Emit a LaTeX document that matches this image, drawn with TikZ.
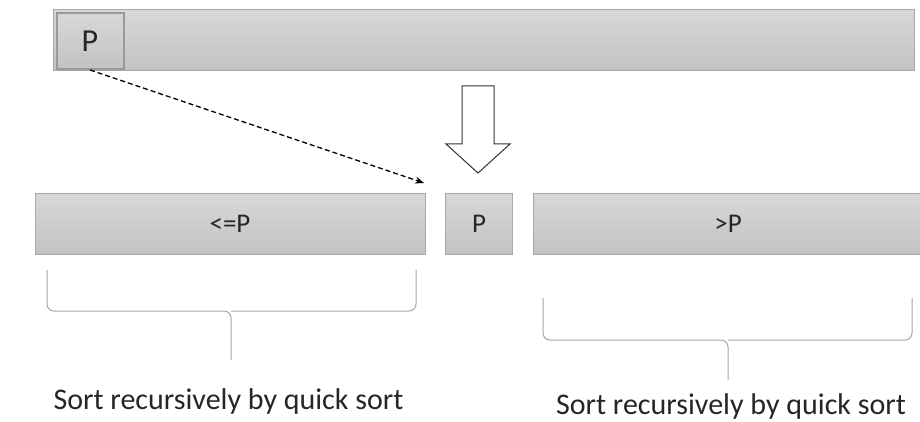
\documentclass[tikz,border=0pt]{standalone}
\usepackage{fontspec}
\setmainfont{Carlito}
\usetikzlibrary{arrows.meta}

\definecolor{barline}{HTML}{A8A8A8}
\definecolor{bartop}{HTML}{D8D8D8}
\definecolor{barbot}{HTML}{C2C2C2}
\definecolor{braceline}{HTML}{A6A6A6}
\tikzset{
  bar/.style={draw=barline, line width=0.8pt, top color=bartop, bottom color=barbot,
    inner sep=0pt, font=\fontsize{27}{32}\selectfont, text=black!85},
  pivot/.style={bar, draw=black!40, line width=2pt, font=\fontsize{32}{38}\selectfont},
  brace/.style={draw=braceline, line width=1pt, rounded corners=7pt},
  note/.style={font=\fontsize{30}{36}\selectfont, text=black!85, anchor=base}
}

\begin{document}
\begin{tikzpicture}[x=1pt,y=-1pt]
  \useasboundingbox (0,0) rectangle (920,422);
  \node[bar, minimum width=861pt, minimum height=61pt] (arr) at (483.5,40) {};
  \node[pivot, minimum width=67pt, minimum height=56pt] (p0) at (90,41) {P};
  \node[bar, minimum width=390pt, minimum height=61pt] (low) at (230,224) {<=P};
  \node[bar, minimum width=67pt, minimum height=61pt] (p1) at (479,224) {P};
  \node[bar, minimum width=390pt, minimum height=61pt] (high) at (728,224) {>P};
  \coordinate (dst) at (424,183);
  \draw[dashed, dash pattern=on 5pt off 3pt, line width=1.3pt, -{Stealth[length=9pt,width=7pt]}]
    (p0.south) -- (dst);
  \draw[black!80, line width=1pt, fill=white]
    (462,86) -- (494,86) -- (494,144) -- (510,144) -- (478,173) -- (446,144) -- (462,144) -- cycle;
  \draw[brace] (47,270) -- (47,311) -- (231,311) -- (231,360);
  \draw[brace] (416,270) -- (416,311) -- (231,311);
  \draw[brace] (543,298) -- (543,340) -- (728,340) -- (728,380);
  \draw[brace] (912,298) -- (912,340) -- (728,340);
  \node[note] (lowtxt) at (228.5,409) {Sort recursively by quick sort};
  \node[note] (hightxt) at (731,414) {Sort recursively by quick sort};
\end{tikzpicture}
\end{document}
